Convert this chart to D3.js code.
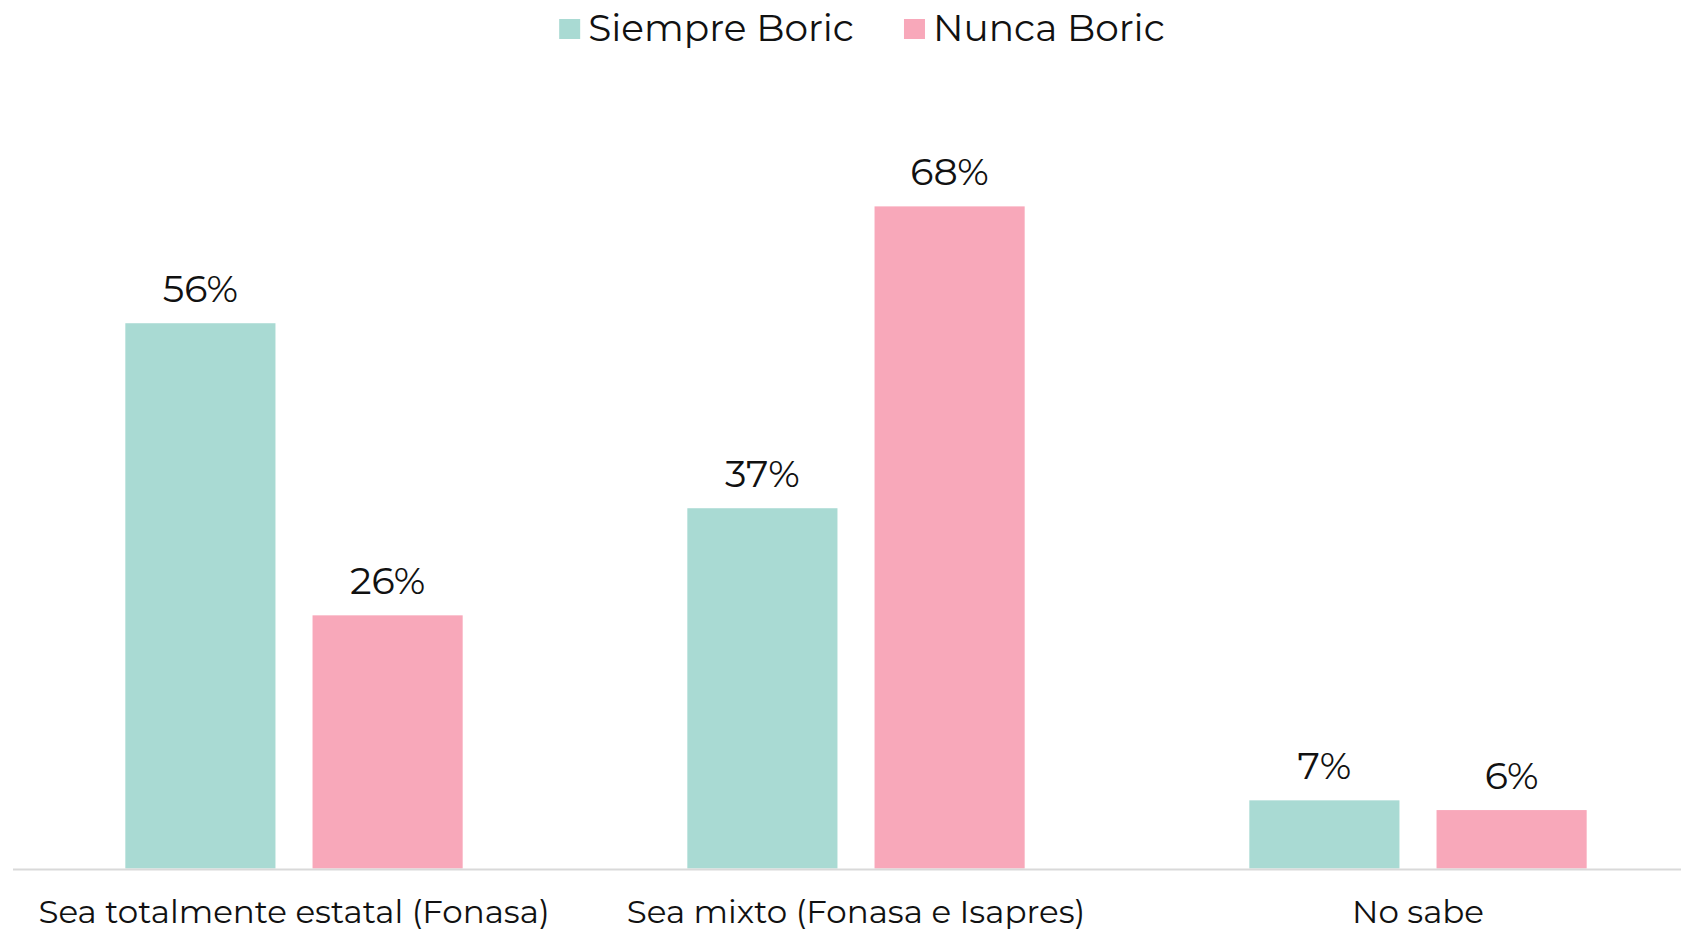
<!DOCTYPE html>
<html>
<head>
<meta charset="utf-8">
<script src="https://cdn.jsdelivr.net/npm/d3@7"></script>
<style>
  html, body { margin: 0; padding: 0; background: #fff; }
  svg text { font-family: 'Montserrat', 'DejaVu Sans', sans-serif; fill: #111; }
</style>
</head>
<body>
<svg id="chart" width="1681" height="930"></svg>
<script>
// data
const categories = ['Sea totalmente estatal (Fonasa)', 'Sea mixto (Fonasa e Isapres)', 'No sabe'];
const seriesNames = ['Siempre Boric', 'Nunca Boric'];
const siempre = [56, 37, 7];
const nunca = [26, 68, 6];
const colors = ['#a9dad3', '#f8a8ba'];

const width = 1681;
const baseY = 868.5;

const svg = d3.select('#chart');

const rows = categories.map((c, i) => ({ cat: c, values: [siempre[i], nunca[i]] }));

const x0 = d3.scaleBand()
  .domain(categories)
  .range([13, 1699])
  .padding(0);

const x1 = d3.scaleBand()
  .domain(seriesNames)
  .range([0, x0.bandwidth()])
  .paddingInner(0.198)
  .paddingOuter(0.6);

const y = d3.scaleLinear()
  .domain([0, 80])
  .range([baseY, baseY - 80 * 9.737]);

const color = d3.scaleOrdinal().domain(seriesNames).range(colors);

// bars
const group = svg.append('g').attr('class', 'bars')
  .selectAll('g')
  .data(rows)
  .enter()
  .append('g')
  .attr('transform', d => `translate(${x0(d.cat)},0)`);

const cell = group.selectAll('g')
  .data(d => d.values.map((v, j) => ({ name: seriesNames[j], value: v })))
  .enter()
  .append('g');

cell.append('rect')
  .attr('x', d => x1(d.name))
  .attr('y', d => y(d.value))
  .attr('width', x1.bandwidth())
  .attr('height', d => baseY - y(d.value))
  .attr('fill', d => color(d.name));

cell.append('text')
  .attr('x', d => x1(d.name) + x1.bandwidth() / 2)
  .attr('y', d => y(d.value) - 21)
  .attr('text-anchor', 'middle')
  .style('font-size', '38px')
  .text(d => `${d.value}%`);

// axis line
svg.append('line')
  .attr('x1', 13)
  .attr('x2', width)
  .attr('y1', 869.5)
  .attr('y2', 869.5)
  .attr('stroke', '#d9d9d9')
  .attr('stroke-width', 2);

// category labels
svg.append('g').attr('class', 'cats')
  .selectAll('text')
  .data(categories)
  .enter()
  .append('text')
  .attr('x', d => x0(d) + x0.bandwidth() / 2)
  .attr('y', 922.5)
  .attr('text-anchor', 'middle')
  .style('font-size', '32.5px')
  .text(d => d);

// legend, centred
const legend = svg.append('g').attr('class', 'legend');
const items = legend.selectAll('g')
  .data(seriesNames)
  .enter()
  .append('g');

items.append('rect')
  .attr('width', 21)
  .attr('height', 20)
  .attr('y', 19)
  .attr('fill', d => color(d));

items.append('text')
  .attr('x', 29)
  .attr('y', 41)
  .style('font-size', '37.5px')
  .text(d => d);

let offset = 0;
const itemX = [];
items.each(function () {
  itemX.push(offset);
  const w = this.querySelector('text').getComputedTextLength();
  offset += 29 + w + 50;
});
const total = offset - 50;
const startX = 862 - total / 2;
items.attr('transform', (d, i) => `translate(${startX + itemX[i]},0)`);
</script>
</body>
</html>
